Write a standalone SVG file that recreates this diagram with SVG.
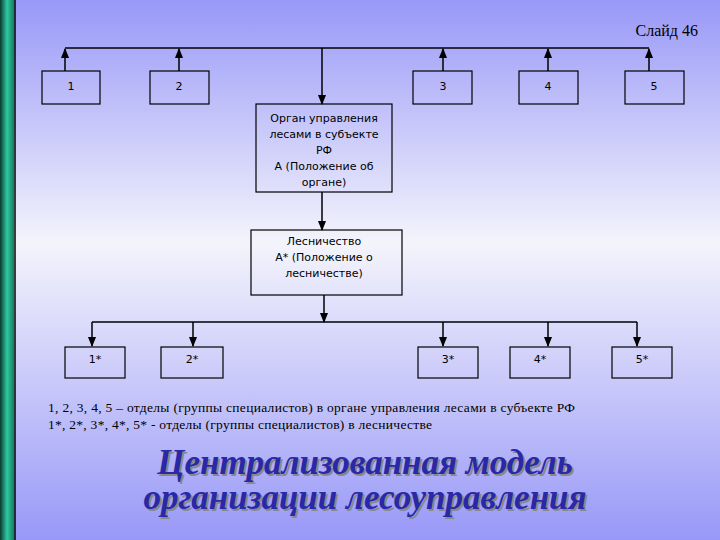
<svg xmlns="http://www.w3.org/2000/svg" width="720" height="540" viewBox="0 0 720 540">
<defs>
<linearGradient id="bg" x1="0" y1="0" x2="0" y2="1">
<stop offset="0" stop-color="#9898f8"/><stop offset="0.45" stop-color="#f4f4fc"/><stop offset="1" stop-color="#9898f8"/>
</linearGradient>
<linearGradient id="bar" x1="0" y1="0" x2="1" y2="0">
<stop offset="0" stop-color="#0a3a30"/><stop offset="0.5" stop-color="#30c8a0"/><stop offset="1" stop-color="#108060"/>
</linearGradient>
<marker id="ah" viewBox="0 0 10 10" refX="9" refY="5" markerWidth="7" markerHeight="7" orient="auto"><path d="M0,1 L10,5 L0,9 Z" fill="#000"/></marker>
<style>
.b{fill:none;stroke:#000;stroke-width:1.2}
.t{font-family:"DejaVu Sans",sans-serif;font-size:11px;fill:#000;text-anchor:middle}
.c{stroke:#000;stroke-width:1.5;fill:none}
.a{stroke:#000;stroke-width:1.5;fill:none;marker-end:url(#ah)}
.ttl{font-family:"Liberation Serif",serif;font-size:35px;font-weight:bold;font-style:italic;text-anchor:middle}
</style>
</defs>
<rect width="720" height="540" fill="url(#bg)"/>
<rect x="0" y="0" width="14" height="540" fill="url(#bar)"/>
<line x1="15" y1="0" x2="15" y2="540" stroke="#000" stroke-width="1.5"/>
<text x="698" y="36" font-family="Liberation Serif,serif" font-size="16" text-anchor="end" fill="#000">Слайд 46</text>
<g id="connectors">
<line class="c" x1="65" y1="48" x2="649" y2="48"/>
<line class="a" x1="65" y1="71" x2="65" y2="49"/>
<line class="a" x1="179" y1="71" x2="179" y2="49"/>
<line class="a" x1="443" y1="71" x2="443" y2="49"/>
<line class="a" x1="548" y1="71" x2="548" y2="49"/>
<line class="a" x1="649" y1="71" x2="649" y2="49"/>
<line class="a" x1="322" y1="48" x2="322" y2="104"/>
<line class="a" x1="322" y1="192" x2="322" y2="230"/>
<line class="a" x1="324" y1="295" x2="324" y2="322"/>
<line class="c" x1="92" y1="322" x2="637" y2="322"/>
<line class="a" x1="92" y1="322" x2="92" y2="346"/>
<line class="a" x1="193" y1="322" x2="193" y2="346"/>
<line class="a" x1="443" y1="322" x2="443" y2="346"/>
<line class="a" x1="548" y1="322" x2="548" y2="346"/>
<line class="a" x1="637" y1="322" x2="637" y2="346"/>
</g>
<g id="n1"><rect class="b" x="42" y="71" width="58" height="33"/><text class="t" x="71" y="90">1</text></g>
<g id="n2"><rect class="b" x="150" y="71" width="59" height="33"/><text class="t" x="179" y="90">2</text></g>
<g id="n3"><rect class="b" x="413" y="71" width="59" height="33"/><text class="t" x="443" y="90">3</text></g>
<g id="n4"><rect class="b" x="519" y="71" width="59" height="33"/><text class="t" x="548" y="90">4</text></g>
<g id="n5"><rect class="b" x="625" y="71" width="59" height="33"/><text class="t" x="654" y="90">5</text></g>
<g id="organ"><rect class="b" x="256" y="104" width="136" height="88"/>
<text class="t" x="324" y="122">Орган управления</text>
<text class="t" x="324" y="138">лесами в субъекте</text>
<text class="t" x="324" y="154">РФ</text>
<text class="t" x="324" y="170">А (Положение об</text>
<text class="t" x="324" y="186">органе)</text></g>
<g id="lesn"><rect class="b" x="251" y="230" width="151" height="65"/>
<text class="t" x="324" y="245">Лесничество</text>
<text class="t" x="324" y="261">А* (Положение о</text>
<text class="t" x="324" y="277">лесничестве)</text></g>
<g id="s1"><rect class="b" x="65" y="347" width="60" height="31"/><text class="t" x="95" y="363">1*</text></g>
<g id="s2"><rect class="b" x="161" y="347" width="62" height="31"/><text class="t" x="192" y="363">2*</text></g>
<g id="s3"><rect class="b" x="418" y="347" width="60" height="31"/><text class="t" x="448" y="363">3*</text></g>
<g id="s4"><rect class="b" x="510" y="347" width="60" height="31"/><text class="t" x="540" y="363">4*</text></g>
<g id="s5"><rect class="b" x="612" y="347" width="60" height="31"/><text class="t" x="642" y="363">5*</text></g>
<text x="48" y="412" font-family="Liberation Serif,serif" font-size="13.5" fill="#000" textLength="527">1, 2, 3, 4, 5 – отделы (группы  специалистов) в органе управления лесами в субъекте РФ</text>
<text x="48" y="429" font-family="Liberation Serif,serif" font-size="13.5" fill="#000" textLength="384">1*, 2*, 3*, 4*, 5* - отделы (группы специалистов) в лесничестве</text>
<text class="ttl" x="367" y="476" fill="#888">Централизованная модель</text>
<text class="ttl" x="367" y="511" fill="#888">организации лесоуправления</text>
<text class="ttl" x="365" y="474" fill="#2828a8">Централизованная модель</text>
<text class="ttl" x="365" y="509" fill="#2828a8">организации лесоуправления</text>
</svg>
